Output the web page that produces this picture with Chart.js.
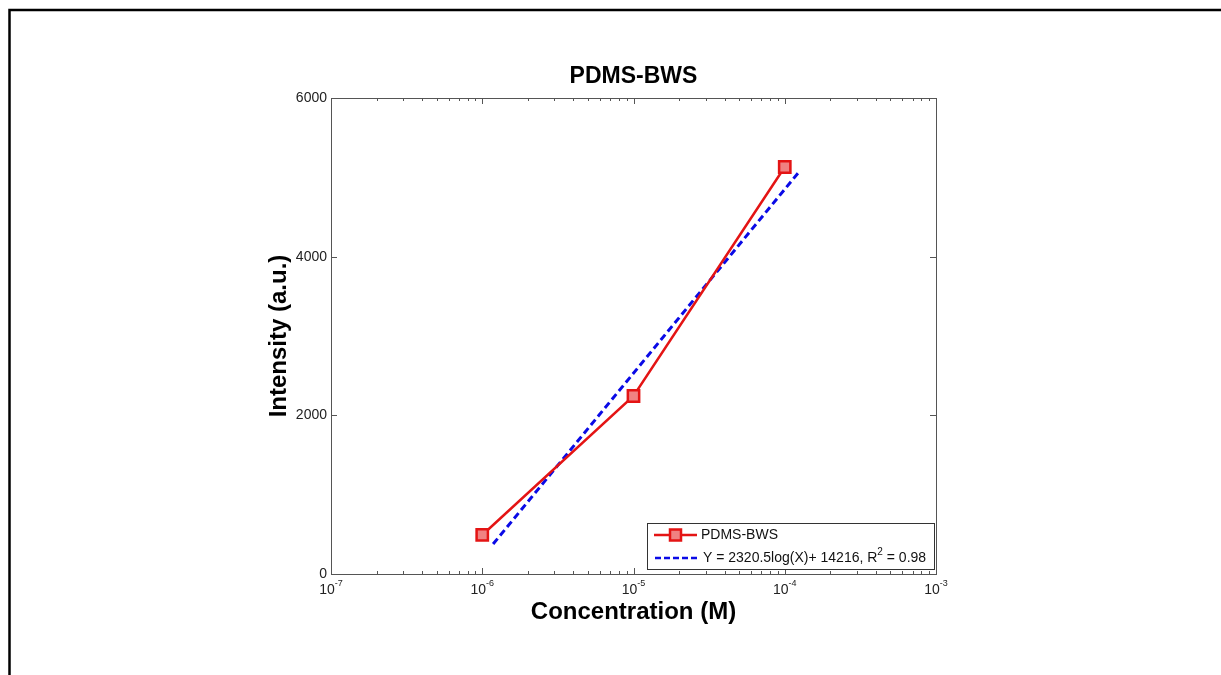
<!DOCTYPE html>
<html>
<head>
<meta charset="utf-8">
<script src="https://cdn.jsdelivr.net/npm/chart.js@4"></script>
<style>
  html, body { margin: 0; padding: 0; background: #fff; }
  #wrap { width: 1221px; height: 675px; position: relative; }
</style>
</head>
<body>
<div id="wrap"><canvas id="chart"></canvas></div>
<script>
// data
const concentrations = [1e-6, 1e-5, 1e-4];
const intensities = [492, 2244, 5130];
const fitX = [1.18e-6, 1.24e-4];
const fitY = [378, 5067];
const seriesLabel = "PDMS-BWS";
const fitLabel = ["Y = 2320.5log(X)+ 14216, R", "2", " = 0.98"];
const xExponents = [-7, -6, -5, -4, -3];
const yTicks = [0, 2000, 4000, 6000];

const FONT = "'Liberation Sans', Arial, sans-serif";
const RED = "rgb(228,20,20)";
const PINK = "rgb(240,130,130)";
const BLUE = "rgb(10,10,230)";

// draws axes box, ticks, labels, titles, legend and the page frame
const decorPlugin = {
    id: "decor",
    afterDraw(chart) {
        const ctx = chart.ctx;
        const a = chart.chartArea;
        const xs = chart.scales.x;
        const ys = chart.scales.y;
        ctx.save();

        // page frame
        ctx.strokeStyle = "#000";
        ctx.lineWidth = 2.5;
        ctx.beginPath();
        ctx.moveTo(9.5, 700);
        ctx.lineTo(9.5, 10);
        ctx.lineTo(1221, 10);
        ctx.stroke();

        // axes box
        ctx.strokeStyle = "#555";
        ctx.lineWidth = 1;
        ctx.strokeRect(a.left + 0.5, a.top + 0.5, a.right - a.left, a.bottom - a.top);

        // x ticks (log, major + minor), bottom and top, pointing inward
        ctx.beginPath();
        for (let i = 0; i < xExponents.length; i++) {
            const e = xExponents[i];
            for (let m = 1; m <= 9; m++) {
                if (i === xExponents.length - 1 && m > 1) break;
                const px = Math.round(xs.getPixelForValue(m * Math.pow(10, e))) + 0.5;
                const len = m === 1 ? 6 : 3;
                ctx.moveTo(px, a.bottom);
                ctx.lineTo(px, a.bottom - len);
                ctx.moveTo(px, a.top);
                ctx.lineTo(px, a.top + len);
            }
        }
        // y ticks, left and right
        yTicks.forEach(v => {
            const py = Math.round(ys.getPixelForValue(v)) + 0.5;
            ctx.moveTo(a.left, py);
            ctx.lineTo(a.left + 6, py);
            ctx.moveTo(a.right, py);
            ctx.lineTo(a.right - 6, py);
        });
        ctx.stroke();

        // y tick labels
        ctx.fillStyle = "#222";
        ctx.font = "14px " + FONT;
        ctx.textAlign = "right";
        ctx.textBaseline = "middle";
        yTicks.forEach(v => {
            ctx.fillText(String(v), a.left - 4, ys.getPixelForValue(v));
        });

        // x tick labels 10^e
        xExponents.forEach(e => {
            const px = xs.getPixelForValue(Math.pow(10, e));
            ctx.font = "14px " + FONT;
            const w1 = ctx.measureText("10").width;
            ctx.font = "9px " + FONT;
            const sup = "-" + String(Math.abs(e));
            const w2 = ctx.measureText(sup).width;
            const x0 = px - (w1 + w2) / 2;
            ctx.textAlign = "left";
            ctx.textBaseline = "alphabetic";
            ctx.font = "14px " + FONT;
            ctx.fillText("10", x0, a.bottom + 20);
            ctx.font = "9px " + FONT;
            ctx.fillText(sup, x0 + w1, a.bottom + 12);
        });

        // title and axis titles
        ctx.fillStyle = "#000";
        ctx.textAlign = "center";
        ctx.textBaseline = "middle";
        ctx.font = "bold 23px " + FONT;
        ctx.fillText(seriesLabel, (a.left + a.right) / 2, 77);
        ctx.font = "bold 24px " + FONT;
        ctx.fillText("Concentration (M)", (a.left + a.right) / 2, 612);
        ctx.save();
        ctx.translate(279, (a.top + a.bottom) / 2);
        ctx.rotate(-Math.PI / 2);
        ctx.fillText("Intensity (a.u.)", 0, 0);
        ctx.restore();

        // legend
        const lx = 647, ly = 523, lw = 287, lh = 46;
        ctx.fillStyle = "#fff";
        ctx.fillRect(lx, ly, lw, lh);
        ctx.strokeStyle = "#333";
        ctx.lineWidth = 1;
        ctx.strokeRect(lx + 0.5, ly + 0.5, lw, lh);

        const r1 = 535, r2 = 558;
        ctx.strokeStyle = RED;
        ctx.lineWidth = 2.5;
        ctx.beginPath();
        ctx.moveTo(654, r1);
        ctx.lineTo(697, r1);
        ctx.stroke();
        ctx.fillStyle = PINK;
        ctx.fillRect(670, r1 - 5.5, 11, 11);
        ctx.strokeRect(670, r1 - 5.5, 11, 11);

        ctx.strokeStyle = BLUE;
        ctx.lineWidth = 2.5;
        ctx.setLineDash([6, 3]);
        ctx.beginPath();
        ctx.moveTo(655, r2);
        ctx.lineTo(700, r2);
        ctx.stroke();
        ctx.setLineDash([]);

        ctx.fillStyle = "#111";
        ctx.textAlign = "left";
        ctx.textBaseline = "middle";
        ctx.font = "14px " + FONT;
        ctx.fillText(seriesLabel, 701, r1);
        let tx = 703;
        ctx.fillText(fitLabel[0], tx, r2);
        tx += ctx.measureText(fitLabel[0]).width;
        ctx.font = "10px " + FONT;
        ctx.fillText(fitLabel[1], tx, r2 - 6);
        tx += ctx.measureText(fitLabel[1]).width;
        ctx.font = "14px " + FONT;
        ctx.fillText(fitLabel[2], tx, r2);

        ctx.restore();
    }
};

const measured = concentrations.map((c, i) => ({ x: c, y: intensities[i] }));
const fitLine = fitX.map((c, i) => ({ x: c, y: fitY[i] }));

const ctx = document.getElementById("chart").getContext("2d");
new Chart(ctx, {
    type: "scatter",
    data: {
        datasets: [{
            label: seriesLabel,
            data: measured,
            showLine: true,
            borderColor: RED,
            borderWidth: 2.5,
            pointStyle: "rect",
            pointRadius: 8,
            pointBackgroundColor: PINK,
            pointBorderColor: RED,
            pointBorderWidth: 2.5,
            order: 1
        }, {
            label: fitLabel.join(""),
            data: fitLine,
            showLine: true,
            borderColor: BLUE,
            borderWidth: 3,
            borderDash: [7, 4],
            pointRadius: 0,
            order: 2
        }]
    },
    options: {
        responsive: true,
        maintainAspectRatio: false,
        animation: false,
        layout: { padding: { left: 331, right: 285, top: 98, bottom: 101 } },
        plugins: {
            legend: { display: false },
            tooltip: { enabled: false }
        },
        scales: {
            x: { type: "logarithmic", min: 1e-7, max: 1e-3, display: false },
            y: { type: "linear", min: 0, max: 6000, display: false }
        }
    },
    plugins: [decorPlugin]
});
</script>
</body>
</html>
